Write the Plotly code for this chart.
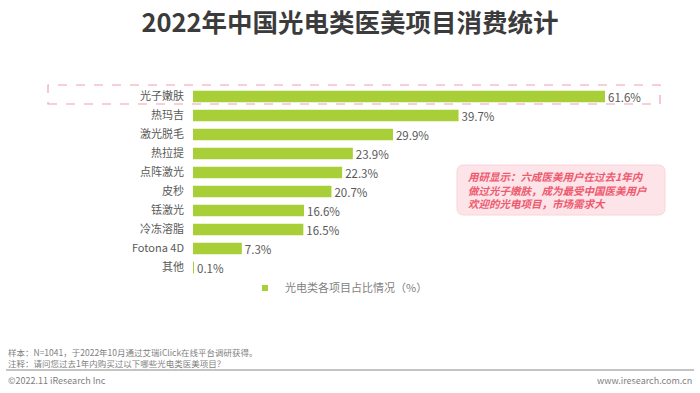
import plotly.graph_objects as go

categories = ["光子嫩肤", "热玛吉", "激光脱毛", "热拉提", "点阵激光", "皮秒", "铥激光", "冷冻溶脂", "Fotona 4D", "其他"]
values = [61.6, 39.7, 29.9, 23.9, 22.3, 20.7, 16.6, 16.5, 7.3, 0.1]
series_name = "光电类各项目占比情况（%）"
title_text = "2022年中国光电类医美项目消费统计"
callout_lines = ["用研显示：六成医美用户在过去1年内", "做过光子嫩肤，成为最受中国医美用户", "欢迎的光电项目，市场需求大"]
note_sample = "样本：N=1041，于2022年10月通过艾瑞iClick在线平台调研获得。"
note_q = "注释：请问您过去1年内购买过以下哪些光电类医美项目？"
copyright_text = "©2022.11 iResearch Inc"
site_text = "www.iresearch.com.cn"

W, H = 700, 393
L, R = 193, 47
T, B = 87, 116
pw = W - L - R
ph = H - T - B

def px(x):
    return (x - L) / pw

def py(y):
    return (H - B - y) / ph

FONT = "Noto Sans CJK SC, Microsoft YaHei, sans-serif"
GREEN = "#a9cf38"
GRAY = "#595959"

fig = go.Figure()
fig.add_trace(go.Bar(
    y=categories, x=values, orientation="h",
    marker=dict(color=GREEN, line=dict(width=0)),
    text=[f"{v:.1f}%" for v in values], textposition="outside",
    constraintext="none",
    textfont=dict(family=FONT, size=11.5, color=GRAY),
    cliponaxis=False, showlegend=False, name=series_name,
))
fig.add_trace(go.Scatter(
    x=[None], y=[None], mode="markers", name=series_name,
    marker=dict(symbol="square", size=6, color=GREEN),
    showlegend=True,
))

shapes = []
shapes.append(dict(type="rect", xref="paper", yref="paper",
                   x0=px(48), x1=px(660), y0=py(104), y1=py(85),
                   line=dict(color="#f2a0ae", width=1.2, dash="dash"),
                   fillcolor="rgba(0,0,0,0)", layer="below"))
x0, x1, y0, y1, r = 457, 665, 165, 215, 7
rx = r / pw
ry = r / ph
X0, X1, Y0, Y1 = px(x0), px(x1), py(y1), py(y0)
path = (f"M {X0+rx},{Y0} L {X1-rx},{Y0} Q {X1},{Y0} {X1},{Y0+ry} "
        f"L {X1},{Y1-ry} Q {X1},{Y1} {X1-rx},{Y1} L {X0+rx},{Y1} "
        f"Q {X0},{Y1} {X0},{Y1-ry} L {X0},{Y0+ry} Q {X0},{Y0} {X0+rx},{Y0} Z")
shapes.append(dict(type="path", xref="paper", yref="paper", path=path,
                   fillcolor="#fde4e8", line=dict(color="#fbd3da", width=1)))
shapes.append(dict(type="line", xref="paper", yref="paper",
                   x0=px(6), x1=px(694), y0=py(370), y1=py(370),
                   line=dict(color="#b0b0b0", width=1.5)))

annotations = []
annotations.append(dict(xref="paper", yref="paper", x=px(466), y=py(190),
                        xanchor="left", yanchor="middle", align="left",
                        text="<br>".join(f"<i><b>{t}</b></i>" for t in callout_lines),
                        showarrow=False,
                        font=dict(family=FONT, size=10.5, color="#ee5a6f")))
annotations.append(dict(xref="paper", yref="paper", x=px(6), y=py(357.5),
                        xanchor="left", yanchor="middle", align="left",
                        text=note_sample + "<br>" + note_q, showarrow=False,
                        font=dict(family=FONT, size=8.5, color="#7f7f7f")))
annotations.append(dict(xref="paper", yref="paper", x=px(6), y=py(380),
                        xanchor="left", yanchor="middle",
                        text=copyright_text, showarrow=False,
                        font=dict(family=FONT, size=9, color="#7f7f7f")))
annotations.append(dict(xref="paper", yref="paper", x=px(694), y=py(380),
                        xanchor="right", yanchor="middle",
                        text=site_text, showarrow=False,
                        font=dict(family=FONT, size=9, color="#7f7f7f")))

fig.update_layout(
    width=W, height=H,
    margin=dict(l=L, r=R, t=T, b=B, autoexpand=False),
    paper_bgcolor="white", plot_bgcolor="white",
    title=dict(text=f"<b>{title_text}</b>", x=0.5, xanchor="center",
               y=1 - 23 / H, yanchor="middle", xref="container", yref="container",
               font=dict(family=FONT, size=25.5, color="#3b3b3b")),
    bargap=0.4,
    xaxis=dict(range=[0, 61.6 * pw / 412], visible=False, fixedrange=True),
    yaxis=dict(autorange="reversed", showgrid=False, zeroline=False,
               showline=False, ticks="", ticklabelstandoff=8, fixedrange=True,
               tickfont=dict(family=FONT, size=11, color=GRAY)),
    legend=dict(orientation="h", xref="container", yref="container",
                x=245 / W, y=1 - 288 / H, xanchor="left", yanchor="middle",
                font=dict(family=FONT, size=11, color="#7f7f7f"),
                bgcolor="rgba(0,0,0,0)"),
    shapes=shapes, annotations=annotations,
)
fig.write_html("out.html", config={"displayModeBar": False},
               post_script="document.body.style.margin='0';document.body.style.padding='0';")
